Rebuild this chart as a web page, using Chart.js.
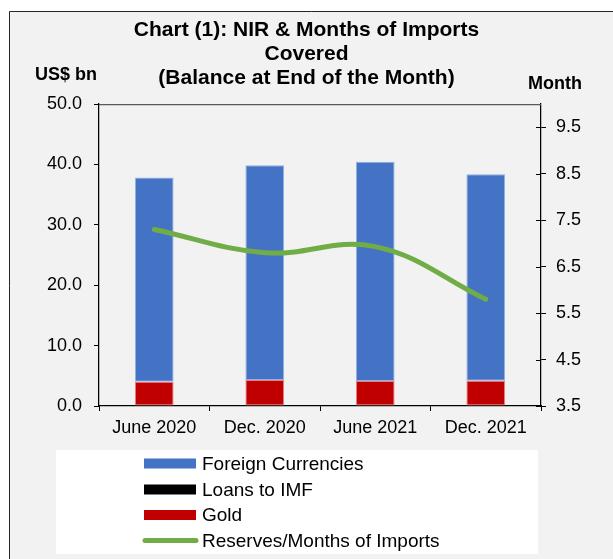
<!DOCTYPE html>
<html>
<head>
<meta charset="utf-8">
<script src="https://cdn.jsdelivr.net/npm/chart.js@4/dist/chart.umd.min.js"></script>
<style>
  html, body { margin: 0; padding: 0; background: #ffffff; }
  #wrap { width: 613px; height: 559px; }
</style>
</head>
<body>
<div id="wrap"><canvas id="c" width="613" height="559"></canvas></div>
<script>
// Period labels (end of month)
const periods = ['June 2020', 'Dec. 2020', 'June 2021', 'Dec. 2021'];

// Reserve components, US$ bn
const gold = [4.0, 4.3, 4.15, 4.2];
const loansToIMF = [0, 0, 0, 0];
const foreignCurrencies = [33.85, 35.55, 36.3, 34.15];

// Months of imports covered by reserves
const monthsOfImports = [7.3, 6.8, 6.93, 5.8];

// Right axis tick values
const monthTicks = [3.5, 4.5, 5.5, 6.5, 7.5, 8.5, 9.5];

const FONT = "'Liberation Sans', Arial, sans-serif";

// Frame, background, unit captions and plot top border
const framePlugin = {
  id: 'frame',
  beforeDraw(chart) {
    const ctx = chart.ctx;
    ctx.save();
    ctx.fillStyle = '#ffffff';
    ctx.fillRect(0, 0, chart.width, chart.height);
    ctx.fillStyle = '#f2f2f2';
    ctx.fillRect(9, 11, chart.width - 9, chart.height - 11);
    ctx.strokeStyle = '#262626';
    ctx.lineWidth = 1;
    ctx.beginPath();
    ctx.moveTo(9.5, chart.height);
    ctx.lineTo(9.5, 11.5);
    ctx.lineTo(chart.width, 11.5);
    ctx.stroke();
    ctx.restore();
  },
  afterDraw(chart) {
    const ctx = chart.ctx;
    const a = chart.chartArea;
    ctx.save();
    // top edge of the plot area
    ctx.strokeStyle = '#595959';
    ctx.lineWidth = 1.25;
    ctx.beginPath();
    ctx.moveTo(a.left, a.top + 0.5);
    ctx.lineTo(a.right, a.top + 0.5);
    ctx.stroke();
    // inward halves of the right-axis ticks
    const y1 = chart.scales.y1;
    ctx.strokeStyle = '#000000';
    ctx.lineWidth = 1;
    ctx.beginPath();
    y1.ticks.forEach(t => {
      const py = Math.round(y1.getPixelForValue(t.value)) + 0.5;
      ctx.moveTo(a.right - 5, py);
      ctx.lineTo(a.right, py);
    });
    ctx.stroke();
    // unit captions
    ctx.fillStyle = '#000000';
    ctx.font = 'bold 18px ' + FONT;
    ctx.textBaseline = 'middle';
    ctx.textAlign = 'center';
    ctx.fillText('US$ bn', 66, 75);
    ctx.fillText('Month', 555, 84);
    ctx.restore();
  }
};

// Vertical legend in a white box under the chart
const boxLegendPlugin = {
  id: 'boxLegend',
  afterDraw(chart) {
    const ctx = chart.ctx;
    ctx.save();
    ctx.fillStyle = '#ffffff';
    ctx.fillRect(56, 450, 482, 104);
    const rows = [463.5, 489.5, 515, 540.5];
    const order = [2, 1, 0, 3];
    ctx.font = '19px ' + FONT;
    ctx.textBaseline = 'middle';
    ctx.textAlign = 'left';
    order.forEach((di, i) => {
      const ds = chart.data.datasets[di];
      const y = rows[i];
      if (ds.type === 'line') {
        ctx.strokeStyle = ds.borderColor;
        ctx.lineWidth = 5;
        ctx.lineCap = 'round';
        ctx.beginPath();
        ctx.moveTo(145, y);
        ctx.lineTo(196, y);
        ctx.stroke();
      } else {
        ctx.fillStyle = ds.backgroundColor;
        ctx.fillRect(144, y - 5, 52, 10);
      }
      ctx.fillStyle = '#000000';
      ctx.fillText(ds.label, 202, y + 1);
    });
    ctx.restore();
  }
};

new Chart(document.getElementById('c'), {
  data: {
    labels: periods,
    datasets: [
      {
        type: 'bar',
        label: 'Gold',
        data: gold,
        backgroundColor: '#c00000',
        borderColor: '#e88080',
        borderWidth: 1,
        borderSkipped: false,
        yAxisID: 'y',
        stack: 'nir',
        order: 1
      },
      {
        type: 'bar',
        label: 'Loans to IMF',
        data: loansToIMF,
        backgroundColor: '#000000',
        borderWidth: 0,
        yAxisID: 'y',
        stack: 'nir',
        order: 1
      },
      {
        type: 'bar',
        label: 'Foreign Currencies',
        data: foreignCurrencies,
        backgroundColor: '#4472c4',
        borderColor: '#8fb2e4',
        borderWidth: 1,
        borderSkipped: false,
        yAxisID: 'y',
        stack: 'nir',
        order: 1
      },
      {
        type: 'line',
        label: 'Reserves/Months of Imports',
        data: monthsOfImports,
        borderColor: '#70ad47',
        backgroundColor: '#70ad47',
        borderWidth: 5,
        borderCapStyle: 'round',
        tension: 0.4,
        pointRadius: 0,
        yAxisID: 'y1',
        order: 0
      }
    ]
  },
  options: {
    responsive: false,
    animation: false,
    devicePixelRatio: 1,
    datasets: {
      bar: { categoryPercentage: 1.0, barPercentage: 0.35 }
    },
    layout: { padding: { left: 0, right: 0, top: 0, bottom: 0 } },
    plugins: {
      legend: { display: false },
      tooltip: { enabled: false },
      title: {
        display: true,
        text: ['Chart (1): NIR & Months of Imports', 'Covered', '(Balance at End of the Month)'],
        color: '#000000',
        font: { family: FONT, size: 21, weight: 'bold', lineHeight: 1.143 },
        padding: { top: 18, bottom: 14 },
        align: 'center'
      }
    },
    scales: {
      x: {
        stacked: true,
        offset: true,
        grid: {
          offset: true,
          drawOnChartArea: false,
          drawTicks: true,
          tickLength: 5,
          color: '#000000'
        },
        border: { display: true, color: '#000000', width: 1.25 },
        ticks: {
          color: '#000000',
          font: { family: FONT, size: 18 },
          padding: 6,
          maxRotation: 0
        },
        afterFit(scale) { scale.height = 153; }
      },
      y: {
        stacked: true,
        position: 'left',
        min: 0,
        max: 50,
        grid: {
          drawOnChartArea: false,
          drawTicks: true,
          tickLength: 5,
          color: '#000000'
        },
        border: { display: true, color: '#000000', width: 1.25 },
        ticks: {
          stepSize: 10,
          color: '#000000',
          font: { family: FONT, size: 18 },
          padding: 12,
          callback: v => Number(v).toFixed(1)
        },
        afterFit(scale) { scale.width = 99; }
      },
      y1: {
        position: 'right',
        min: 3.5,
        max: 10,
        grid: {
          drawOnChartArea: false,
          drawTicks: true,
          tickLength: 5,
          color: '#000000'
        },
        border: { display: true, color: '#000000', width: 1.25 },
        ticks: {
          color: '#000000',
          font: { family: FONT, size: 18 },
          padding: 10,
          callback: v => Number(v).toFixed(1)
        },
        afterBuildTicks(scale) { scale.ticks = monthTicks.map(v => ({ value: v })); },
        afterFit(scale) { scale.width = 72; }
      }
    }
  },
  plugins: [framePlugin, boxLegendPlugin]
});
</script>
</body>
</html>
